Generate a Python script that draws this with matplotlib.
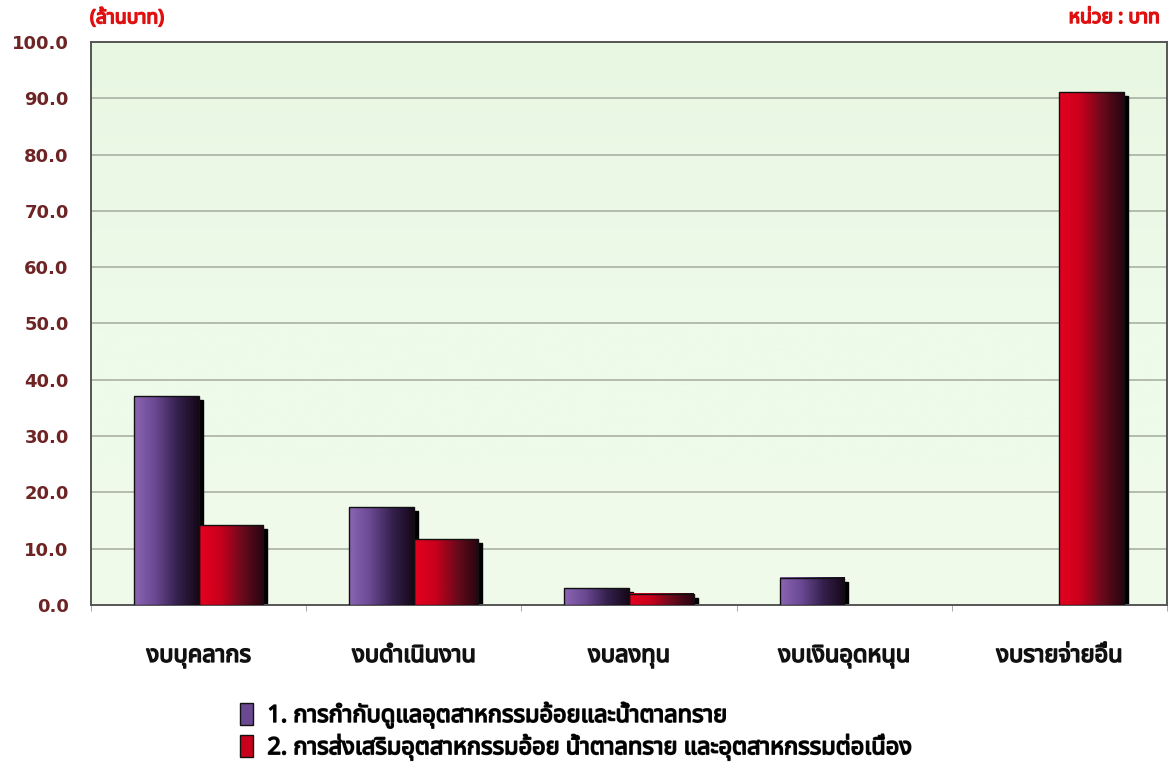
import numpy as np
import matplotlib
matplotlib.use("Agg")
import matplotlib.pyplot as plt
from matplotlib import font_manager
from matplotlib.ft2font import FT2Font
from matplotlib.colors import LinearSegmentedColormap
import matplotlib.transforms as mtransforms
import matplotlib.patheffects as pe
from matplotlib.patches import Patch

categories = ["งบบุคลากร", "งบดำเนินงาน", "งบลงทุน", "งบเงินอุดหนุน", "งบรายจ่ายอื่น"]
series_names = ["1. การกำกับดูแลอุตสาหกรรมอ้อยและน้ำตาลทราย",
                "2. การส่งเสริมอุตสาหกรรมอ้อย น้ำตาลทราย และอุตสาหกรรมต่อเนื่อง"]
series1 = [37.1, 17.4, 3.0, 4.8, 0.0]
series2 = [14.2, 11.7, 2.0, 0.0, 91.1]
yticks = [0, 10, 20, 30, 40, 50, 60, 70, 80, 90, 100]

# find a font with Thai glyphs
thai_fam = None
cands = []
for f in font_manager.fontManager.ttflist:
    try:
        ft = FT2Font(f.fname)
        cm = ft.get_charmap()
        if 0x0E01 in cm and 0x0E33 in cm:
            cands.append(f.name)
    except Exception:
        pass
pref = ["Noto Sans Thai", "Noto Sans Thai UI", "Loma", "Garuda", "Tlwg Typo", "Sarabun"]
for p in pref:
    if p in cands:
        thai_fam = p
        break
if thai_fam is None and cands:
    thai_fam = sorted(set(cands))[0]
fams = ([thai_fam] if thai_fam else []) + ["DejaVu Sans"]
plt.rcParams['font.family'] = fams

def bold_fx(color, lw=1.1):
    return [pe.withStroke(linewidth=lw, foreground=color)]

fig = plt.figure(figsize=(11.72, 7.66), dpi=100)
ax = fig.add_axes([0.0776, 0.2102, 0.9181, 0.735])

x = np.arange(len(categories))
w = 0.30
ax.set_xlim(-0.5, len(categories) - 0.5)
ax.set_ylim(0, 100)

# background gradient
bg = LinearSegmentedColormap.from_list("bg", ["#f0fbea", "#eefaea", "#e8f7e2"])
ax.imshow(np.linspace(0, 1, 256).reshape(-1, 1), cmap=bg, aspect='auto',
          extent=(-0.5, len(categories) - 0.5, 0, 100), origin='lower', zorder=0)

for yv in yticks[1:-1]:
    ax.axhline(yv, color="#a3ab9e", lw=1.1, zorder=1)

cm1 = LinearSegmentedColormap.from_list("p", ["#8c66b4", "#6a4892", "#35204d", "#150818"])
cm2 = LinearSegmentedColormap.from_list("r", ["#e60020", "#c8001c", "#6a0a1c", "#250510"])
grad = np.linspace(0, 1, 256).reshape(1, -1)

shadow_tr = ax.transData + mtransforms.ScaledTranslation(4 / 100, -4 / 100, fig.dpi_scale_trans)

def draw(vals, offset, cmap):
    bars = ax.bar(x + offset, vals, w, color="none", edgecolor="none", zorder=3)
    for b in bars:
        if b.get_height() <= 0:
            continue
        sh = plt.Rectangle((b.get_x(), 0), b.get_width(), b.get_height(),
                           transform=shadow_tr, color="#000000", zorder=2, clip_on=True)
        ax.add_patch(sh)
        ax.imshow(grad, cmap=cmap, aspect='auto',
                  extent=(b.get_x(), b.get_x() + b.get_width(), 0, b.get_height()),
                  zorder=3)
        ax.add_patch(plt.Rectangle((b.get_x(), 0), b.get_width(), b.get_height(),
                                   fill=False, edgecolor="#111111", lw=1.0, zorder=4))
    return bars

draw(series1, -w / 2, cm1)
draw(series2, w / 2, cm2)

ax.set_xlim(-0.5, len(categories) - 0.5)
ax.set_ylim(0, 100)

ax.set_yticks(yticks)
ax.set_yticklabels([f"{v:.1f}" for v in yticks], fontsize=13, fontweight='bold',
                   color="#6e2424", family="DejaVu Sans")
ax.tick_params(axis='y', length=0, pad=16)
ax.set_xticks(x)
ax.set_xticklabels(categories, fontsize=17, color="#111111")
for t in ax.get_xticklabels():
    t.set_path_effects(bold_fx("#111111"))
ax.tick_params(axis='x', length=0, pad=28)
ax.set_xticks(np.arange(len(categories) + 1) - 0.5, minor=True)
ax.tick_params(axis='x', which='minor', length=4, color="#999999")

for s in ["top", "bottom", "left", "right"]:
    ax.spines[s].set_color("#555555")
    ax.spines[s].set_linewidth(1.4)

fig.text(90 / 1172, 1 - 18 / 766, "(ล้านบาท)", color="#e01010", fontsize=14,
         ha='left', va='center', path_effects=bold_fx("#e01010"))
fig.text(1160 / 1172, 1 - 18 / 766, "หน่วย : บาท", color="#e01010", fontsize=14,
         ha='right', va='center', path_effects=bold_fx("#e01010"))

# legend
handles = [Patch(facecolor="#6a4892", edgecolor="#111111"),
           Patch(facecolor="#c8001c", edgecolor="#111111")]
leg = fig.legend(handles, series_names, loc='upper left',
                 bbox_to_anchor=(219 / 1172, 1 - 681 / 766),
                 frameon=False, prop={'size': 17, 'family': fams},
                 handlelength=0.55, handleheight=1.1, handletextpad=0.6, labelspacing=0.25)
for t in leg.get_texts():
    t.set_path_effects(bold_fx("#111111"))

fig.savefig("out.png", dpi=100, facecolor="white")
